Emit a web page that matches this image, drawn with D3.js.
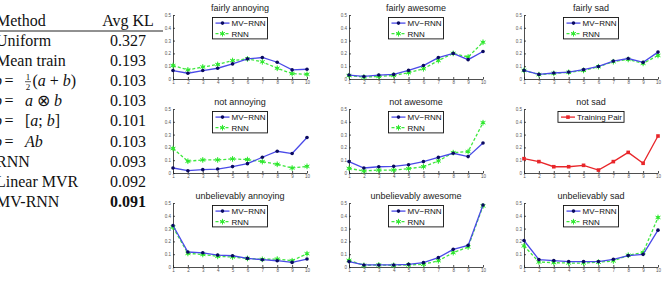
<!DOCTYPE html>
<html>
<head>
<meta charset="utf-8">
<script src="https://cdn.jsdelivr.net/npm/d3@7"></script>
<style>
  body { margin: 0; background: #fff; }
  svg { display: block; }
  .panel-title { font-family: "Liberation Sans", Arial, sans-serif; font-size: 9px; fill: #222; }
  .legend-label { font-family: "Liberation Sans", Arial, sans-serif; font-size: 8px; fill: #111; }
  .axis text { font-family: "Liberation Sans", Arial, sans-serif; font-size: 4.5px; fill: #555; }
  .axis path, .axis line { stroke: #222; stroke-width: 0.8; }
  .kl-table text { font-family: "Liberation Serif", "Times New Roman", serif; font-size: 16px; fill: #111; }
</style>
</head>
<body>
<div id="chart"></div>
<script>
// table values
const methodNames = ['Uniform', 'Mean train', 'p = 1/2(a + b)', 'p = a ⊗ b', 'p = [a; b]', 'p = Ab', 'RNN', 'Linear MVR', 'MV-RNN'];
const avgKL = [0.327, 0.193, 0.103, 0.103, 0.101, 0.103, 0.093, 0.092, 0.091];

// shared axes
const xValues = [1, 2, 3, 4, 5, 6, 7, 8, 9, 10];
const yTicks = [0, 0.1, 0.2, 0.3, 0.4, 0.5];

// panel titles, row by row
const panelTitles = ['fairly annoying', 'fairly awesome', 'fairly sad',
  'not annoying', 'not awesome', 'not sad',
  'unbelievably annoying', 'unbelievably awesome', 'unbelievably sad'];

// MV-RNN predictions
const fairlyAnnoyingMV = [0.066, 0.045, 0.066, 0.084, 0.118, 0.157, 0.168, 0.131, 0.071, 0.076];
const fairlyAwesomeMV = [0.031, 0.020, 0.031, 0.036, 0.067, 0.105, 0.167, 0.200, 0.151, 0.215];
const fairlySadMV = [0.067, 0.036, 0.047, 0.054, 0.073, 0.098, 0.140, 0.160, 0.130, 0.210];
const notAnnoyingMV = [0.039, 0.018, 0.026, 0.031, 0.050, 0.073, 0.123, 0.170, 0.152, 0.277];
const notAwesomeMV = [0.089, 0.039, 0.049, 0.052, 0.065, 0.089, 0.122, 0.154, 0.128, 0.234];
const unbelAnnoyingMV = [0.324, 0.117, 0.111, 0.093, 0.088, 0.067, 0.057, 0.049, 0.036, 0.062];
const unbelAwesomeMV = [0.042, 0.016, 0.016, 0.016, 0.021, 0.034, 0.073, 0.138, 0.169, 0.484];
const unbelSadMV = [0.207, 0.058, 0.050, 0.042, 0.042, 0.042, 0.060, 0.089, 0.099, 0.288];

// RNN predictions
const fairlyAnnoyingRNN = [0.105, 0.071, 0.094, 0.113, 0.144, 0.157, 0.134, 0.084, 0.042, 0.037];
const fairlyAwesomeRNN = [0.026, 0.015, 0.020, 0.028, 0.049, 0.080, 0.144, 0.200, 0.172, 0.287];
const fairlySadRNN = [0.067, 0.034, 0.044, 0.052, 0.067, 0.096, 0.135, 0.153, 0.122, 0.184];
const notAnnoyingRNN = [0.191, 0.092, 0.102, 0.102, 0.110, 0.105, 0.089, 0.068, 0.039, 0.052];
const notAwesomeRNN = [0.036, 0.016, 0.023, 0.023, 0.034, 0.049, 0.094, 0.159, 0.167, 0.393];
const unbelAnnoyingRNN = [0.311, 0.106, 0.098, 0.083, 0.078, 0.067, 0.060, 0.062, 0.049, 0.104];
const unbelAwesomeRNN = [0.052, 0.013, 0.016, 0.013, 0.016, 0.021, 0.049, 0.112, 0.156, 0.477];
const unbelSadRNN = [0.165, 0.039, 0.034, 0.031, 0.031, 0.037, 0.047, 0.092, 0.113, 0.387];

// "not sad" training pair
const notSadTraining = [0.112, 0.089, 0.049, 0.049, 0.060, 0.023, 0.089, 0.161, 0.076, 0.289];

const seriesStyle = {
  'MV−RNN': { line: '#4a4ae8', dash: null, marker: 'circle', markerFill: '#0a0a60' },
  'RNN': { line: '#3ee83e', dash: '3,2', marker: 'asterisk', markerFill: '#2ee82e' },
  'Training Pair': { line: '#e8262a', dash: null, marker: 'square', markerFill: '#e8262a' }
};

const panelSeries = [
  [['MV−RNN', fairlyAnnoyingMV], ['RNN', fairlyAnnoyingRNN]],
  [['MV−RNN', fairlyAwesomeMV], ['RNN', fairlyAwesomeRNN]],
  [['MV−RNN', fairlySadMV], ['RNN', fairlySadRNN]],
  [['MV−RNN', notAnnoyingMV], ['RNN', notAnnoyingRNN]],
  [['MV−RNN', notAwesomeMV], ['RNN', notAwesomeRNN]],
  [['Training Pair', notSadTraining]],
  [['MV−RNN', unbelAnnoyingMV], ['RNN', unbelAnnoyingRNN]],
  [['MV−RNN', unbelAwesomeMV], ['RNN', unbelAwesomeRNN]],
  [['MV−RNN', unbelSadMV], ['RNN', unbelSadRNN]]
];

const svg = d3.select('#chart').append('svg')
  .attr('width', 667)
  .attr('height', 282);

class LinePanel {
  constructor(_config, title, series) {
    this.config = {
      left: _config.left,
      top: _config.top,
      width: 134,
      height: 64
    };
    this.title = title;
    this.series = series;
    this.initVis();
  }

  initVis() {
    let vis = this;
    vis.chart = svg.append('g')
      .attr('transform', `translate(${vis.config.left},${vis.config.top})`);

    vis.xScale = d3.scaleLinear().domain([1, 10]).range([0, vis.config.width]);
    vis.yScale = d3.scaleLinear().domain([0, 0.5]).range([vis.config.height, 0]);

    vis.chart.append('g')
      .attr('class', 'axis')
      .call(d3.axisLeft(vis.yScale).tickValues(yTicks).tickSize(-2).tickSizeOuter(0).tickPadding(2)
        .tickFormat(d => d === 0 ? '0' : d.toFixed(1)));

    vis.chart.append('g')
      .attr('class', 'axis')
      .attr('transform', `translate(0,${vis.config.height})`)
      .call(d3.axisBottom(vis.xScale).tickValues(xValues).tickSize(-2).tickSizeOuter(0).tickPadding(2)
        .tickFormat(d3.format('d')));

    vis.chart.append('text')
      .attr('class', 'panel-title')
      .attr('x', vis.config.width / 2)
      .attr('y', -4.5)
      .attr('text-anchor', 'middle')
      .text(vis.title);

    vis.renderVis();
  }

  drawMarker(g, style, size) {
    if (style.marker === 'circle') {
      g.append('circle').attr('r', size).attr('fill', style.markerFill);
    } else if (style.marker === 'square') {
      g.append('rect').attr('x', -size).attr('y', -size).attr('width', size * 2).attr('height', size * 2)
        .attr('fill', style.markerFill);
    } else {
      g.append('circle').attr('r', size * 0.8).attr('fill', style.markerFill);
      g.append('path').attr('d', d3.symbol(d3.symbolAsterisk, 22)())
        .attr('stroke', style.markerFill).attr('stroke-width', 1).attr('fill', 'none');
    }
  }

  renderVis() {
    let vis = this;
    const line = d3.line()
      .x((d, i) => vis.xScale(xValues[i]))
      .y(d => vis.yScale(d));

    // draw RNN under MV-RNN like the original
    const drawOrder = vis.series.slice().reverse();
    drawOrder.forEach(([name, values]) => {
      const style = seriesStyle[name];
      vis.chart.append('path')
        .datum(values)
        .attr('fill', 'none')
        .attr('stroke', style.line)
        .attr('stroke-width', 1.3)
        .attr('stroke-dasharray', style.dash)
        .attr('d', line);

      vis.chart.selectAll(null)
        .data(values)
        .join('g')
        .attr('transform', (d, i) => `translate(${vis.xScale(xValues[i])},${vis.yScale(d)})`)
        .each(function () { vis.drawMarker(d3.select(this), style, 1.8); });
    });

    // legend box, centered at the top
    const legend = vis.chart.append('g');
    const box = legend.append('rect')
      .attr('fill', '#fff')
      .attr('stroke', '#111')
      .attr('stroke-width', 0.9);
    let maxText = 0;
    vis.series.forEach(([name], i) => {
      const style = seriesStyle[name];
      const row = legend.append('g').attr('transform', `translate(0,${5.6 + i * 10.6})`);
      row.append('line')
        .attr('x1', 3).attr('x2', 17)
        .attr('stroke', style.line).attr('stroke-width', 1.3)
        .attr('stroke-dasharray', style.dash);
      vis.drawMarker(row.append('g').attr('transform', 'translate(10,0)'), style, 1.8);
      const t = row.append('text')
        .attr('class', 'legend-label')
        .attr('x', 19)
        .attr('dy', '0.35em')
        .text(name);
      maxText = Math.max(maxText, t.node().getComputedTextLength());
    });
    const boxW = 19 + maxText + 2;
    const boxH = vis.series.length * 10.6 + 0.2;
    box.attr('width', boxW).attr('height', boxH);
    legend.attr('transform', `translate(${vis.config.width / 2 - boxW / 2},2.5)`);
  }
}

const colLefts = [173, 349, 524];
const rowTops = [15, 109, 203];
panelTitles.forEach((title, i) => {
  new LinePanel({ left: colLefts[i % 3], top: rowTops[Math.floor(i / 3)] }, title, panelSeries[i]);
});

// ---- KL table ----
const table = svg.append('g').attr('class', 'kl-table');
const textX = -4;
const klX = 128;
const rowY = d3.scaleLinear().domain([0, 8]).range([46, 206.8]);

table.append('text').attr('x', textX).attr('y', 25.5).text('Method');
table.append('text').attr('x', klX).attr('y', 25.5).attr('text-anchor', 'middle').text('Avg KL');
table.append('line')
  .attr('x1', 0).attr('x2', 163)
  .attr('y1', 31).attr('y2', 31)
  .attr('stroke', '#222').attr('stroke-width', 1);

function drawMath(g, expr, y) {
  // "p = ..." with italic variables and a stacked 1/2
  g.append('text').attr('x', -6).attr('y', y).attr('font-style', 'italic').text('p');
  g.append('text').attr('x', 4.5).attr('y', y).text('=');
  let x = 25;
  const body = expr.slice(4);
  let i = 0;
  while (i < body.length) {
    if (body.startsWith('1/2', i)) {
      g.append('text').attr('x', x + 3).attr('y', y - 6.5).attr('text-anchor', 'middle')
        .style('font-size', '9px').text('1');
      g.append('text').attr('x', x + 3).attr('y', y + 3.5).attr('text-anchor', 'middle')
        .style('font-size', '9px').text('2');
      g.append('line').attr('x1', x).attr('x2', x + 6).attr('y1', y - 4.5).attr('y2', y - 4.5)
        .attr('stroke', '#111').attr('stroke-width', 0.7);
      x += 7.5;
      i += 3;
      continue;
    }
    const ch = body[i];
    const t = g.append('text').attr('x', x).attr('y', y).text(ch === ' ' ? '\u00a0' : ch);
    if (/[a-zA-Z]/.test(ch)) t.attr('font-style', 'italic');
    x += t.node().getComputedTextLength();
    i += 1;
  }
}

const bestKL = d3.min(avgKL);
methodNames.forEach((name, i) => {
  const y = rowY(i);
  if (name.startsWith('p = ')) {
    drawMath(table, name, y);
  } else {
    table.append('text').attr('x', textX).attr('y', y).text(name);
  }
  table.append('text')
    .attr('x', klX).attr('y', y)
    .attr('text-anchor', 'middle')
    .attr('font-weight', avgKL[i] === bestKL ? 'bold' : null)
    .text(avgKL[i].toFixed(3));
});
</script>
</body>
</html>
